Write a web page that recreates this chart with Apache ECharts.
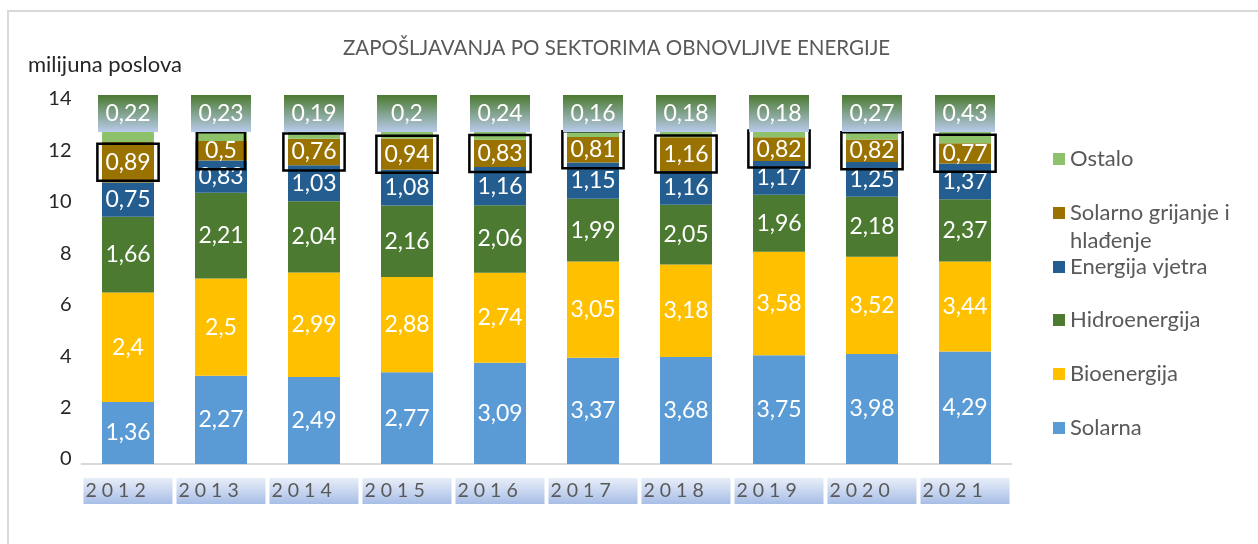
<!DOCTYPE html>
<html>
<head>
<meta charset="utf-8">
<script src="https://cdn.jsdelivr.net/npm/echarts@6/dist/echarts.min.js"></script>
<style>
html,body{margin:0;padding:0;background:#fff;}
#c{width:1258px;height:544px;}
</style>
</head>
<body>
<div id="c"></div>
<script>
const years = ['2012','2013','2014','2015','2016','2017','2018','2019','2020','2021'];
const solarna         = [1.36, 2.27, 2.49, 2.77, 3.09, 3.37, 3.68, 3.75, 3.98, 4.29];
const bioenergija     = [2.4, 2.5, 2.99, 2.88, 2.74, 3.05, 3.18, 3.58, 3.52, 3.44];
const hidroenergija   = [1.66, 2.21, 2.04, 2.16, 2.06, 1.99, 2.05, 1.96, 2.18, 2.37];
const energijaVjetra  = [0.75, 0.83, 1.03, 1.08, 1.16, 1.15, 1.16, 1.17, 1.25, 1.37];
const solarnoGrijanje = [0.89, 0.5, 0.76, 0.94, 0.83, 0.81, 1.16, 0.82, 0.82, 0.77];
const ostalo          = [0.22, 0.23, 0.19, 0.2, 0.24, 0.16, 0.18, 0.18, 0.27, 0.43];
const yTickMin = 0, yTickMax = 14, yTickStep = 2;

const FONT = 'Lato, "Open Sans", sans-serif';
const seriesDefs = [
  {name:'Solarna', values:solarna, color:'#5b9bd5'},
  {name:'Bioenergija', values:bioenergija, color:'#ffc000'},
  {name:'Hidroenergija', values:hidroenergija, color:'#4b7a30'},
  {name:'Energija vjetra', values:energijaVjetra, color:'#245e91'},
  {name:'Solarno grijanje i hlađenje', values:solarnoGrijanje, color:'#9a7200'},
  {name:'Ostalo', values:ostalo, color:'#8dc26a'}
];
const totals = years.map((y,i)=>seriesDefs.reduce((s,d)=>s+d.values[i],0));
const fmt = v => String(v).replace('.', ',');

const grad = (c1,c2)=>({type:'linear',x:0,y:0,x2:0,y2:1,colorStops:[{offset:0,color:c1},{offset:1,color:c2}]});

const series = seriesDefs.map((d)=>{
  let label = {show:true, position:'inside', color:'#fff', fontSize:23, fontFamily:FONT,
    textBorderWidth:0, formatter:p=>fmt(d.values[p.dataIndex])};
  if (d.name==='Ostalo') {
    label = Object.assign(label, {position:'top', distance:0, width:44, padding:[7,8],
      lineHeight:23, align:'center', backgroundColor:grad('#4b7a30','#b9cbec')});
  } else if (d.name==='Solarno grijanje i hlađenje') {
    label = Object.assign(label, {padding:[7,8], lineHeight:23, borderColor:'#000', borderWidth:2.5});
  }
  return {
    name:d.name, type:'bar', stack:'total', xAxisIndex:0, yAxisIndex:0, barWidth:52,
    itemStyle:{color:d.color},
    label,
    data:d.values.map((v,i)=>v/totals[i]*100)
  };
});

const legendOrder = [
  {name:'Ostalo', c:159},
  {name:'Solarno grijanje i hlađenje', c:213, two:true},
  {name:'Energija vjetra', c:267},
  {name:'Hidroenergija', c:320},
  {name:'Bioenergija', c:374},
  {name:'Solarna', c:428}
];
const legends = legendOrder.map(l=>({
  data:[l.name], orient:'vertical', left:1053, top: l.two ? l.c-42 : l.c-14, padding:0,
  icon:'rect', itemWidth:12, itemHeight:12, itemGap:0,
  formatter: l.two ? ()=>' \nSolarno grijanje i\nhlađenje' : undefined,
  textStyle:{fontSize:22, color:'#595959', fontFamily:FONT, lineHeight:28},
  selectedMode:false
}));

const option = {
  animation:false,
  backgroundColor:'#fff',
  title:[
    {text:'ZAPOŠLJAVANJA PO SEKTORIMA OBNOVLJIVE ENERGIJE', left:343, top:38, padding:0,
      textStyle:{fontSize:20.5, fontWeight:'normal', color:'#595959', fontFamily:FONT}},
    {text:'milijuna poslova', left:28, top:54, padding:0,
      textStyle:{fontSize:22, fontWeight:'normal', color:'#262626', fontFamily:FONT}}
  ],
  legend:legends,
  graphic:[{type:'rect', shape:{x:8, y:11, width:1400, height:700}, style:{fill:'none', stroke:'#d9d9d9', lineWidth:2}, silent:true, z:-1}],
  grid:[
    {left:81.5, right:246.5, top:132, bottom:80},
    {left:81.5, right:246.5, top:99, height:360}
  ],
  xAxis:[
    {type:'category', gridIndex:0, data:years,
      axisLine:{lineStyle:{color:'#d9d9d9', width:2}}, axisTick:{show:false},
      axisLabel:{margin:14, formatter:v=>'{a|'+v.split('').join(' ')+'}',
        rich:{a:{width:87, height:26, lineHeight:26, align:'left', padding:[0,0,0,2], fontSize:19.5,
          color:'#595959', fontFamily:FONT, backgroundColor:grad('#e8eef9','#a8bee6')}}}},
    {type:'value', gridIndex:1, show:false}
  ],
  yAxis:[
    {type:'value', gridIndex:0, min:0, max:100, show:false},
    {type:'value', gridIndex:1, min:yTickMin, max:yTickMax, interval:yTickStep,
      axisLine:{show:false}, axisTick:{show:false}, splitLine:{show:false},
      axisLabel:{margin:10, fontSize:20, color:'#262626', fontFamily:FONT}}
  ],
  series
};
const chart = echarts.init(document.getElementById('c'), null, {renderer:'canvas'});
chart.setOption(option);
</script>
</body>
</html>
